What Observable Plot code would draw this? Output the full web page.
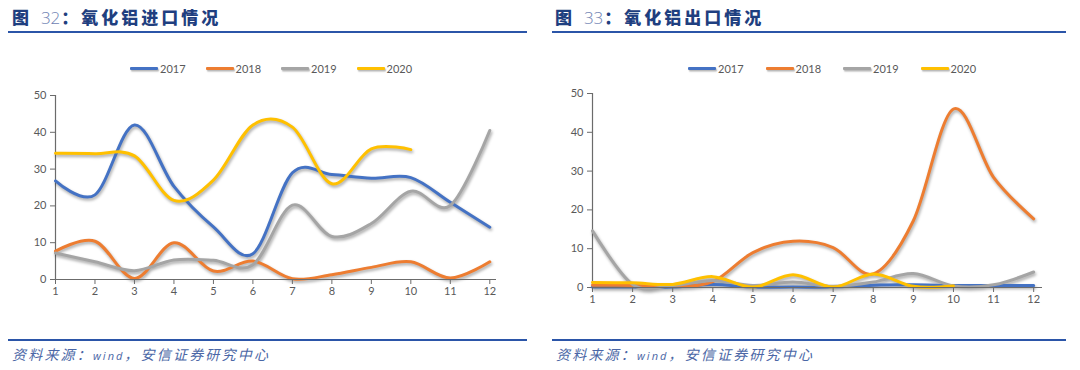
<!DOCTYPE html>
<html><head><meta charset="utf-8">
<script src="https://cdn.jsdelivr.net/npm/d3@7"></script>
<script src="https://cdn.jsdelivr.net/npm/@observablehq/plot@0.6"></script>
<style>
body{margin:0;background:#fff;width:1080px;height:370px;overflow:hidden;position:relative;font-family:"Noto Sans CJK SC",sans-serif;}
.title{position:absolute;top:5px;font-weight:900;font-size:17px;color:#1f3f80;letter-spacing:3px;line-height:24px;white-space:nowrap}
.title .num{font-family:"Open Sans",sans-serif;font-weight:300;color:#6f82b3;letter-spacing:0;margin-left:2px;margin-right:1px}
.rule{position:absolute;height:2px;background:#2b55a8}
.src{position:absolute;top:344px;font-size:14px;font-style:italic;color:#4b67a6;letter-spacing:2.2px;white-space:nowrap;line-height:20px}
.src .w{font-family:"Open Sans",sans-serif;font-size:11px;letter-spacing:2px}
.legend{position:absolute;top:61px;height:14px;display:flex;align-items:center;font-family:Lato,sans-serif;font-size:11px;color:#595959}
.legend .item{display:flex;align-items:center}
.legend .sw{width:28px;height:3px;margin-right:2px;box-shadow:1px 1.5px 1.5px rgba(0,0,0,0.3);border-radius:1px}
.chart{position:absolute;top:80px}
.shadow{filter:drop-shadow(1px 2px 1.5px rgba(0,0,0,0.35))}
</style></head>
<body>
<div class="title" style="left:12px">图 <span class="num">32</span>：氧化铝进口情况</div>
<div class="title" style="left:555px">图 <span class="num">33</span>：氧化铝出口情况</div>
<div class="rule" style="left:8px;top:31px;width:519px"></div>
<div class="rule" style="left:552px;top:31px;width:514px"></div>
<div class="rule" style="left:8px;top:339px;width:519px"></div>
<div class="rule" style="left:552px;top:339px;width:514px"></div>
<div class="src" style="left:12px">资料来源：<span class="w">wind</span>，安信证券研究中心</div>
<div class="src" style="left:556px">资料来源：<span class="w">wind</span>，安信证券研究中心</div>
<div id="legL" class="legend" style="left:130px"></div>
<div id="legR" class="legend" style="left:688px"></div>
<div id="chartL" class="chart" style="left:0px"></div>
<div id="chartR" class="chart" style="left:540px"></div>
<script>
const months = [1,2,3,4,5,6,7,8,9,10,11,12];
const years = ["2017","2018","2019","2020"];
const colors = ["#4472C4","#ED7D31","#A5A5A5","#FFC000"];
const yTicks = [0,10,20,30,40,50];

// 图32 氧化铝进口
const import2017 = [26.8, 23, 42, 25.3, 14.3, 7, 29, 28.5, 27.5, 27.7, 21, 14.2];
const import2018 = [7.7, 10.4, 0.3, 10, 2.3, 5, 0.2, 1.3, 3.3, 4.8, 0.4, 4.8];
const import2019 = [7.2, 4.8, 2.4, 5.3, 5.2, 4, 20.2, 11.7, 15.2, 24, 20.1, 40.5];
const import2020 = [34.3, 34.2, 33.6, 21.5, 27, 42, 41.4, 26, 35.5, 35.3];

// 图33 氧化铝出口
const export2017 = [0.1, 0.1, 0.1, 0.8, 0.1, 0.1, 0.1, 0.6, 0.7, 0.5, 0.5, 0.5];
const export2018 = [0.6, 0.5, 0.3, 1.5, 9, 11.9, 10.3, 3.5, 17.2, 46, 28.4, 17.7];
const export2019 = [14.6, 0.8, 0.5, 1.8, 0.5, 1.4, 0.3, 1.4, 3.6, 0.4, 0.7, 4];
const export2020 = [1.3, 1.2, 0.8, 2.8, 0.1, 3.3, 0.1, 3.5, 0.3, 0.4];

function toRows(series){
  return series.flatMap((vals,i)=>vals.map((v,j)=>({year:years[i], m:months[j], v})));
}

function legend(id, step){
  const el = document.getElementById(id);
  years.forEach((y,i)=>{
    const it = document.createElement("div");
    it.className="item"; it.style.width = step+"px";
    const sw = document.createElement("div"); sw.className="sw"; sw.style.background=colors[i];
    const t = document.createElement("span"); t.textContent=y;
    it.appendChild(sw); it.appendChild(t); el.appendChild(it);
  });
}
legend("legL", 75.5);
legend("legR", 77.5);

function chart(rows, o){
  return Plot.plot({
    width:540, height:230,
    marginLeft:o.ml, marginRight:o.mr, marginTop:o.mt, marginBottom:o.mb,
    style:{fontFamily:"Lato, sans-serif", fontSize:"11px", color:"#595959", background:"transparent", overflow:"visible"},
    x:{domain:[1,o.xmax], axis:null},
    y:{domain:[0,50], axis:null},
    color:{domain:years, range:colors},
    marks:[
      Plot.ruleX([1],{stroke:"#6b6b6b", strokeWidth:1.2}),
      Plot.axisY({ticks:yTicks, tickSize:5, tickPadding:4, stroke:"#6b6b6b", fill:"#595959", label:null}),
      Plot.line(rows,{x:"m", y:"v", z:"year", stroke:"year", strokeWidth:3, curve:"cardinal", className:"shadow"}),
      Plot.ruleY([0],{stroke:"#6b6b6b", strokeWidth:1.2}),
      Plot.axisX({ticks:months, tickSize:5, tickPadding:3, tickFormat:d=>String(d), stroke:"#6b6b6b", fill:"#595959", label:null})
    ]
  });
}

document.getElementById("chartL").appendChild(
  chart(toRows([import2017,import2018,import2019,import2020]), {ml:55, mr:44, mt:15, mb:31, xmax:12.17}));
document.getElementById("chartR").appendChild(
  chart(toRows([export2017,export2018,export2019,export2020]), {ml:52, mr:38, mt:13, mb:23, xmax:12.22}));
</script>
</body></html>
